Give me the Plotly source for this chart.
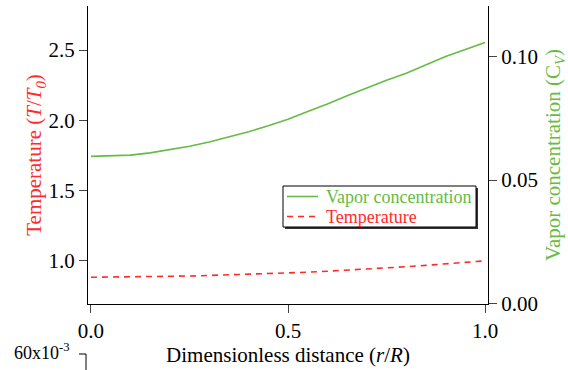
import plotly.graph_objects as go

# Radial profiles across the droplet
r = [0.00, 0.05, 0.10, 0.15, 0.20, 0.25, 0.30, 0.35, 0.40, 0.45, 0.50,
     0.55, 0.60, 0.65, 0.70, 0.75, 0.80, 0.85, 0.90, 0.95, 1.00]
vapor = [0.0596, 0.0597, 0.0601, 0.0610, 0.0622, 0.0637, 0.0654, 0.0674, 0.0696, 0.0720, 0.0747,
         0.0778, 0.0808, 0.0842, 0.0874, 0.0905, 0.0933, 0.0966, 0.1001, 0.1030, 0.1058]
temperature = [0.884, 0.885, 0.886, 0.888, 0.890, 0.893, 0.897, 0.901, 0.905, 0.909, 0.914,
               0.920, 0.927, 0.934, 0.941, 0.950, 0.959, 0.969, 0.979, 0.989, 1.001]

left_ticks = [1.0, 1.5, 2.0, 2.5]
right_ticks = [0.00, 0.05, 0.10]
x_ticks = [0.0, 0.5, 1.0]

GREEN = "#66bb44"
RED = "#ff2a2a"
FONT = "Liberation Serif, Times New Roman, serif"

fig = go.Figure()
fig.add_trace(go.Scatter(
    x=r, y=vapor, yaxis="y2", mode="lines", name="Vapor concentration",
    line=dict(color=GREEN, width=1.6), showlegend=False,
))
fig.add_trace(go.Scatter(
    x=r, y=temperature, yaxis="y", mode="lines", name="Temperature",
    line=dict(color=RED, width=1.6, dash="6px,5px"), showlegend=False,
))

axis_common = dict(
    showgrid=False, zeroline=False, showline=True, linecolor="black", linewidth=1,
    ticks="outside", ticklen=8, tickwidth=1, tickcolor="#444",
    tickfont=dict(family=FONT, size=21, color="black"),
)

fig.update_layout(
    width=568, height=370,
    margin=dict(l=88, r=80, t=6, b=66),
    paper_bgcolor="white", plot_bgcolor="white",
    font=dict(family=FONT, size=21, color="black"),
    xaxis=dict(
        range=[-0.0076, 1.0076], tickvals=x_ticks, ticktext=["0.0", "0.5", "1.0"],
        title=dict(text="Dimensionless distance (<i>r</i>/<i>R</i>)", standoff=2,
                   font=dict(family=FONT, size=21, color="black")),
        **axis_common,
    ),
    yaxis=dict(
        range=[0.694, 2.813], tickvals=left_ticks, ticktext=["1.0", "1.5", "2.0", "2.5"],
        title=dict(text="Temperature (<i>T</i>/<i>T</i><sub><i>0</i></sub>)", standoff=0,
                   font=dict(family=FONT, size=21, color=RED)),
        **axis_common,
    ),
    yaxis2=dict(
        range=[-0.0003, 0.1206], tickvals=right_ticks, ticktext=["0.00", "0.05", "0.10"],
        overlaying="y", side="right",
        title=dict(text="Vapor concentration (C<sub><i>V</i></sub>)", standoff=8,
                   font=dict(family=FONT, size=21, color=GREEN)),
        **axis_common,
    ),
    showlegend=False,
)

# Legend box with drop shadow, drawn in paper coordinates
def px_x(px):
    return (px - 88) / 400

def px_y(py):
    return (304 - py) / 298

box = (283, 186, 476, 227)
fig.add_shape(type="rect", xref="paper", yref="paper", layer="above",
              x0=px_x(box[0] + 2), x1=px_x(box[2] + 2), y0=px_y(box[1] + 2), y1=px_y(box[3] + 2),
              fillcolor="#333", line=dict(width=0))
fig.add_shape(type="rect", xref="paper", yref="paper", layer="above",
              x0=px_x(box[0]), x1=px_x(box[2]), y0=px_y(box[1]), y1=px_y(box[3]),
              fillcolor="white", line=dict(color="black", width=1))

legend_rows = [
    ("Vapor concentration", GREEN, "solid", 196.5),
    ("Temperature", RED, "6px,5px", 216.5),
]
for label, color, dash, row_y in legend_rows:
    fig.add_shape(type="line", xref="paper", yref="paper", layer="above",
                  x0=px_x(287), x1=px_x(318), y0=px_y(row_y), y1=px_y(row_y),
                  line=dict(color=color, width=1.6, dash=dash))
    fig.add_annotation(xref="paper", yref="paper", x=px_x(324), y=px_y(row_y),
                       xanchor="left", yanchor="middle", showarrow=False,
                       text=label, font=dict(family=FONT, size=18, color=color))

# Top edge of a lower axis that continues below the visible area
fig.add_shape(type="line", xref="paper", yref="paper",
              x0=px_x(79), x1=px_x(86), y0=px_y(354), y1=px_y(354),
              line=dict(color="black", width=1))
fig.add_shape(type="line", xref="paper", yref="paper",
              x0=px_x(86), x1=px_x(86), y0=px_y(354), y1=px_y(372),
              line=dict(color="black", width=1))
fig.add_annotation(xref="paper", yref="paper", x=px_x(72), y=px_y(351),
                   xanchor="right", yanchor="middle", showarrow=False,
                   text="60x10<sup>-3</sup>", font=dict(family=FONT, size=18, color="black"))

fig.write_html("out.html")
